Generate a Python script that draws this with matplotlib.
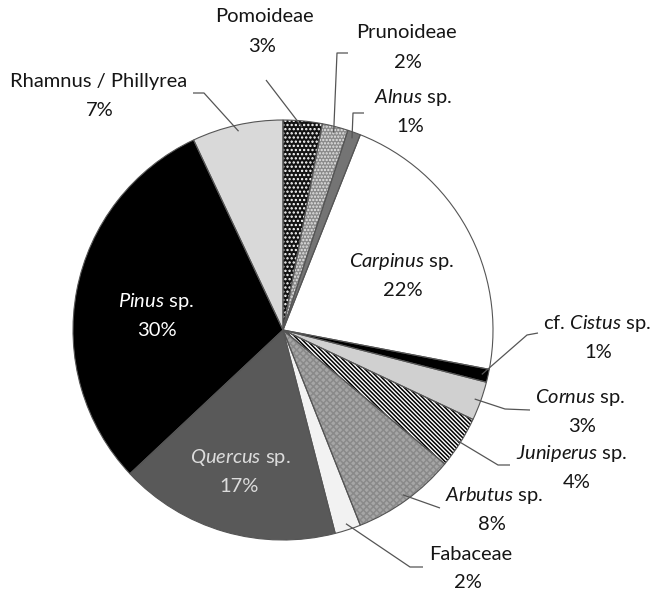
import matplotlib
matplotlib.use("Agg")
import matplotlib.pyplot as plt
import numpy as np

# ---------------- data ----------------
categories = ["Pomoideae", "Prunoideae", "Alnus sp.", "Carpinus sp.", "cf. Cistus sp.",
              "Cornus sp.", "Juniperus sp.", "Arbutus sp.", "Fabaceae", "Quercus sp.",
              "Pinus sp.", "Rhamnus / Phillyrea"]
percent = [3, 2, 1, 22, 1, 3, 4, 8, 2, 17, 30, 7]
display_names = ["Pomoideae", "Prunoideae", r"$\mathit{Alnus}$ sp.", r"$\mathit{Carpinus}$ sp.",
                 r"cf. $\mathit{Cistus}$ sp.", r"$\mathit{Cornus}$ sp.", r"$\mathit{Juniperus}$ sp.",
                 r"$\mathit{Arbutus}$ sp.", "Fabaceae", r"$\mathit{Quercus}$ sp.",
                 r"$\mathit{Pinus}$ sp.", "Rhamnus / Phillyrea"]

# ---------------- style ----------------
plt.rcParams["font.family"] = ["Lato", "DejaVu Sans"]
plt.rcParams["mathtext.fontset"] = "custom"
plt.rcParams["mathtext.rm"] = "Lato"
plt.rcParams["mathtext.it"] = "Lato:italic"
plt.rcParams["hatch.linewidth"] = 1.1

faces = ["#121212", "#8a8a8a", "#747474", "#ffffff", "#000000", "#d0d0d0",
         "#ffffff", "#a6a6a6", "#f2f2f2", "#595959", "#000000", "#d9d9d9"]
hatches = ["....", ".....", None, None, None, None, "\\" * 8, "xxxxx", None, None, None, None]
hatch_cols = ["#ffffff", "#e6e6e6", None, None, None, None, "#000000", "#8a8a8a",
              None, None, None, None]

W, H = 657, 593
fig = plt.figure(figsize=(W / 100, H / 100), dpi=100)
ax = fig.add_axes([0, 0, 1, 1])
ax.set_xlim(0, W)
ax.set_ylim(0, H)
ax.set_aspect("equal")
ax.axis("off")

def P(px, py):
    return (px, H - py)

cx, cy = P(283, 330)
R = 210

# fill + hatch
wedges, _ = ax.pie(percent, startangle=90, counterclock=False, center=(cx, cy),
                   radius=R, colors=faces, wedgeprops=dict(linewidth=0))
for w, h, hc in zip(wedges, hatches, hatch_cols):
    if h:
        w.set_hatch(h)
        w.set_edgecolor(hc)
        w.set_linewidth(0)
# outlines
ax.pie(percent, startangle=90, counterclock=False, center=(cx, cy),
       radius=R, colors=["none"] * len(percent),
       wedgeprops=dict(linewidth=0.8, edgecolor="#555555", fill=False))
ax.set_xlim(0, W)
ax.set_ylim(0, H)

FS = 14.5

# label layout (pixel coords): name center, pct center, text colour
layout = {
    "Pomoideae": ((264, 16), (262, 46), "#151515"),
    "Prunoideae": ((406, 33), (408, 62), "#151515"),
    "Alnus sp.": ((413, 98), (410, 127), "#151515"),
    "Carpinus sp.": ((402, 262), (403, 290), "#151515"),
    "cf. Cistus sp.": ((597, 323), (598, 352), "#151515"),
    "Cornus sp.": ((580, 398), (582, 427), "#151515"),
    "Juniperus sp.": ((572, 453), (577, 482), "#151515"),
    "Arbutus sp.": ((494, 495), (492, 525), "#151515"),
    "Fabaceae": ((471, 555), (468, 583), "#151515"),
    "Quercus sp.": ((240, 457), (239, 487), "#dcdcdc"),
    "Pinus sp.": ((156, 302), (157, 330), "#ffffff"),
    "Rhamnus / Phillyrea": ((99, 82), (100, 110), "#151515"),
}
for cat, name, pct in zip(categories, display_names, percent):
    (nx, ny), (qx, qy), col = layout[cat]
    ax.text(*P(nx, ny), name, ha="center", va="center", fontsize=FS, color=col)
    ax.text(*P(qx, qy), f"{pct}%", ha="center", va="center", fontsize=FS, color=col)

# leader lines: from text side (pixel coords) to the wedge edge at its mid angle
leaders = {
    "Pomoideae": [(266, 80)],
    "Prunoideae": [(348, 53), (337, 53)],
    "Alnus sp.": [(364, 113), (353, 113)],
    "cf. Cistus sp.": [(538, 333), (527, 335)],
    "Cornus sp.": [(530, 410), (505, 409)],
    "Juniperus sp.": [(510, 465), (498, 465)],
    "Arbutus sp.": [(440, 508)],
    "Fabaceae": [(423, 567), (410, 567)],
    "Rhamnus / Phillyrea": [(193, 93), (204, 93)],
}
cum = np.cumsum([0] + percent)
for i, cat in enumerate(categories):
    if cat not in leaders:
        continue
    mid = (cum[i] + cum[i + 1]) / 2 / sum(percent) * 360
    ang = np.deg2rad(90 - mid)
    ex, ey = cx + R * np.cos(ang) * 0.97, cy + R * np.sin(ang) * 0.97
    pts = [P(*p) for p in leaders[cat]] + [(ex, ey)]
    xs, ys = zip(*pts)
    ax.plot(xs, ys, color="#555555", lw=0.9, solid_capstyle="butt")

fig.savefig("out.png", dpi=100, facecolor="white")
